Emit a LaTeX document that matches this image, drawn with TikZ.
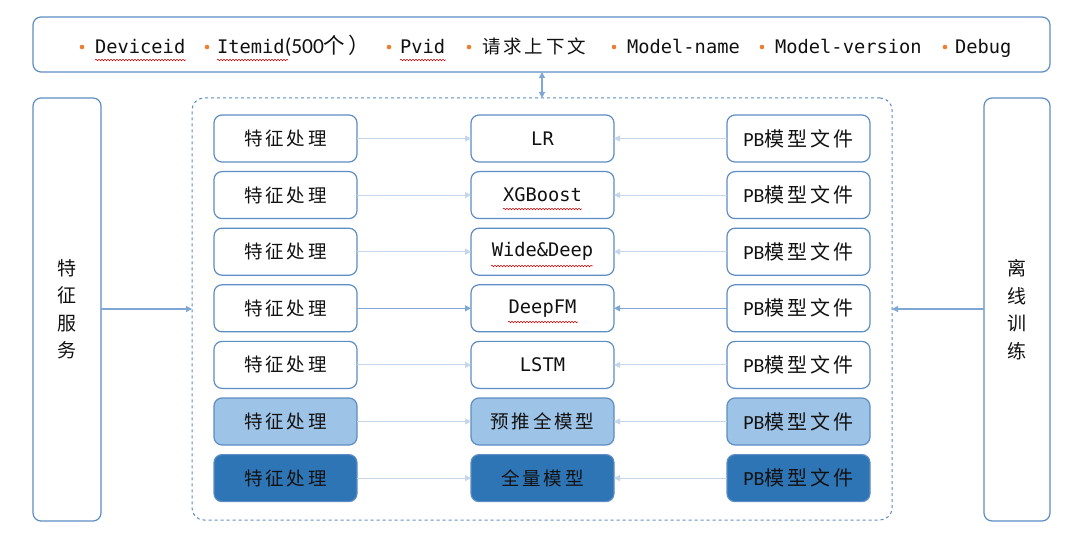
\documentclass[tikz,border=0pt]{standalone}
\usepackage{fontspec}
\setmainfont{Carlito}
\setmonofont{DejaVu Sans Mono}
\newfontfamily\cjk[LetterSpace=15]{Noto Sans CJK SC}
\usetikzlibrary{arrows.meta,decorations.pathmorphing}
\definecolor{bd}{HTML}{5E8DC4}
\definecolor{lt}{HTML}{9DC3E6}
\definecolor{dk}{HTML}{2E75B6}
\definecolor{ar}{HTML}{C5D6EA}
\definecolor{ard}{HTML}{7FA7D3}
\definecolor{bul}{HTML}{ED7D31}
\definecolor{txt}{HTML}{111111}
\begin{document}
\begin{tikzpicture}[x=1pt,y=-1pt,
  box/.style={draw=bd, line width=1.2pt, rounded corners=8pt, inner sep=0pt, outer sep=0pt, text=txt},
  cell/.style={box, minimum width=143pt, minimum height=47pt},
  cellL/.style={cell, fill=lt},
  cellD/.style={cell, fill=dk},
  cn/.style={font=\cjk\fontsize{18.5}{20}\selectfont},
  mono/.style={font=\ttfamily\fontsize{18.7}{20}\selectfont},
  pb/.style={font=\fontsize{20}{22}\selectfont},
  conn/.style={draw=ar, line width=0.9pt, -{Triangle[length=6pt,width=6pt]}},
  connd/.style={draw=ard, line width=1pt, -{Triangle[length=6pt,width=6pt]}},
  big/.style={draw=ard, line width=1.1pt, -{Triangle[length=6pt,width=6pt]}},
  item/.style={anchor=base west, inner sep=0pt, text=txt},
  squig/.style={draw=red!80!black, line width=0.5pt, decorate, decoration={snake, amplitude=0.8pt, segment length=3pt}}
]
\useasboundingbox (0,0) rectangle (1080,540);
\fill[white] (0,0) rectangle (1080,540);

% top box
\node[box, minimum width=1017pt, minimum height=55pt] (top) at (541.5,44.5) {};
\foreach \bx in {82,207,389,469,614,762,945} \fill[bul] (\bx,47) circle (2.3pt);
\node[item, mono] (i1) at (95,53.5) {Deviceid};
\node[item] (i2) at (217,53.5) {\ttfamily\fontsize{18.7}{20}\selectfont Itemid\fontsize{21.5}{22}\rmfamily(500{\cjk 个）}};
\node[item, mono] (i3) at (400,53.5) {Pvid};
\node[item, cn] (i4) at (482,53.5) {请求上下文};
\node[item, mono] (i5) at (627,53.5) {Model-name};
\node[item, mono] (i6) at (775,53.5) {Model-version};
\node[item, mono] (i7) at (955,53.5) {Debug};
\draw[squig] (95,60) -- (186,60);
\draw[squig] (217,60) -- (288,60);
\draw[squig] (400,60) -- (446,60);

% dashed container
\node[draw=bd, line width=1pt, dashed, rounded corners=12pt, minimum width=700pt, minimum height=422pt, inner sep=0pt, outer sep=0pt] (dash) at (542,309) {};

% side boxes
\node[box, minimum width=68pt, minimum height=423pt, align=center, font=\cjk\fontsize{19}{27.5}\selectfont] (left) at (67,309.5) {特\\征\\服\\务};
\node[box, minimum width=66pt, minimum height=423pt, align=center, font=\cjk\fontsize{19}{27.5}\selectfont] (right) at (1017,309.5) {离\\线\\训\\练};

% rows
\foreach \i/\y in {1/138.5,2/195.1,3/251.7,4/308.3,5/364.9}{
  \node[cell, cn] (f\i) at (285.5,\y) {特征处理};
  \node[cell, pb] (p\i) at (798.5,\y) {PB{\cjk 模型文件}};
}
\node[cell, mono] (m1) at (542.5,138.5) {LR};
\node[cell, mono] (m2) at (542.5,195.1) {XGBoost};
\node[cell, mono] (m3) at (542.5,251.7) {Wide\&Deep};
\node[cell, mono] (m4) at (542.5,308.3) {DeepFM};
\node[cell, mono] (m5) at (542.5,364.9) {LSTM};
\node[cellL, cn] (f6) at (285.5,421.5) {特征处理};
\node[cellL, cn] (m6) at (542.5,421.5) {预推全模型};
\node[cellL, pb] (p6) at (798.5,421.5) {PB{\cjk 模型文件}};
\node[cellD, cn] (f7) at (285.5,478.1) {特征处理};
\node[cellD, cn] (m7) at (542.5,478.1) {全量模型};
\node[cellD, pb] (p7) at (798.5,478.1) {PB{\cjk 模型文件}};

\draw[squig] (503,209) -- (582,209);
\draw[squig] (491,266) -- (593,266);
\draw[squig] (508,322) -- (578,322);

% connectors
\foreach \i in {1,2,3,5,6,7}{
  \draw[conn] (f\i.east) -- (m\i.west);
  \draw[conn] (p\i.west) -- (m\i.east);
}
\draw[connd] (f4.east) -- (m4.west);
\draw[connd] (p4.west) -- (m4.east);

\draw[big] (left.east |- dash.west) -- (dash.west);
\draw[big] (right.west |- dash.east) -- (dash.east);
\draw[big, {Triangle[length=6pt,width=6pt]}-{Triangle[length=6pt,width=6pt]}] (dash.north) -- (dash.north |- top.south);
\end{tikzpicture}
\end{document}
